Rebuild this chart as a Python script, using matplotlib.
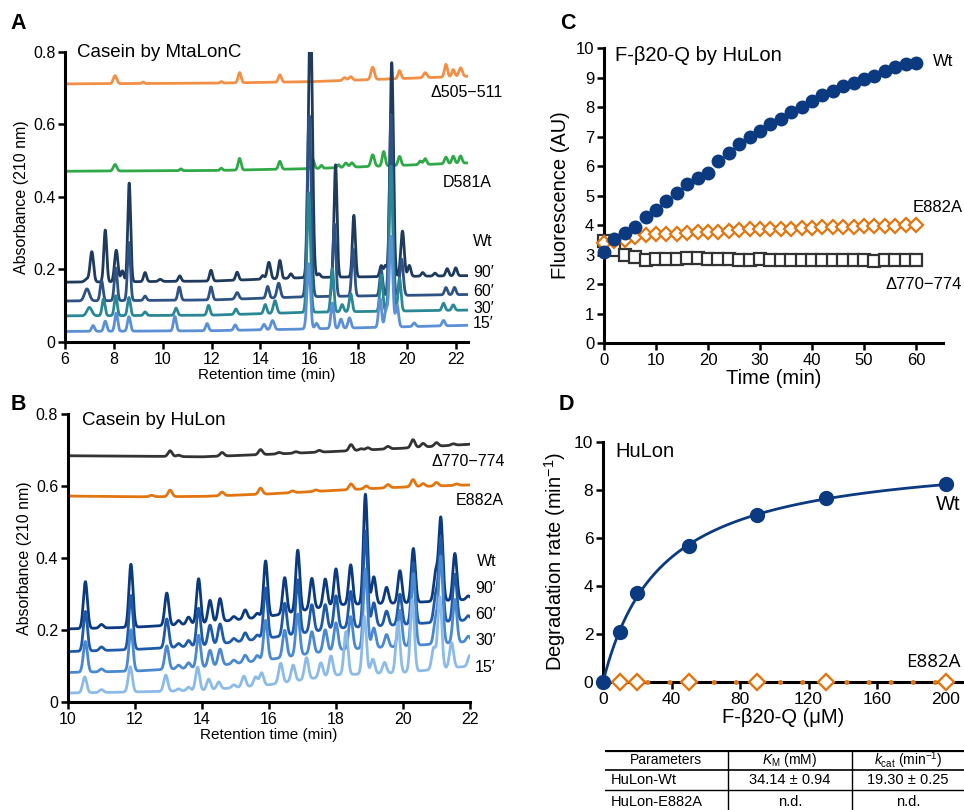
import numpy as np
import matplotlib
matplotlib.use('Agg')
from matplotlib import pyplot as plt
from matplotlib.lines import Line2D

plt.rcParams['font.family'] = ['Liberation Sans', 'DejaVu Sans']
plt.rcParams['mathtext.fontset'] = 'custom'
plt.rcParams['mathtext.rm'] = 'Liberation Sans'
plt.rcParams['mathtext.it'] = 'Liberation Sans:italic'

# ---- Panel A: casein digested by MtaLonC (peaks as (time, height, width)) ----
A_KNOTS_T = [6, 12, 16, 22.5]
A_D505_BASE = [0.712, 0.714, 0.718, 0.733]
A_D581A_BASE = [0.471, 0.473, 0.478, 0.494]
A_WT90_BASE = [0.165, 0.168, 0.178, 0.183]
A_WT60_BASE = [0.113, 0.116, 0.125, 0.131]
A_WT30_BASE = [0.072, 0.074, 0.082, 0.088]
A_WT15_BASE = [0.029, 0.031, 0.036, 0.046]

A_D505_PEAKS = [(8.05, 0.022, 0.07), (9.2, 0.004, 0.05), (12.4, 0.004, 0.05),
                (13.15, 0.028, 0.06), (14.8, 0.02, 0.06), (17.45, 0.008, 0.07),
                (17.7, 0.01, 0.07), (18.6, 0.034, 0.07), (19.7, 0.022, 0.06),
                (20.75, 0.014, 0.07), (21.6, 0.035, 0.06), (21.9, 0.02, 0.06),
                (22.2, 0.024, 0.07)]
A_D581A_PEAKS = [(8.05, 0.018, 0.07), (10.75, 0.005, 0.05), (12.4, 0.006, 0.05),
                 (13.15, 0.032, 0.06), (14.8, 0.022, 0.06), (16.15, 0.025, 0.06),
                 (16.5, 0.008, 0.05), (17.2, 0.008, 0.05), (17.5, 0.012, 0.07),
                 (17.75, 0.012, 0.07), (18.6, 0.032, 0.07), (19.05, 0.04, 0.06),
                 (19.7, 0.025, 0.06), (20.55, 0.01, 0.06), (20.75, 0.016, 0.06),
                 (21.6, 0.018, 0.06), (21.9, 0.02, 0.06), (22.2, 0.02, 0.06)]
A_WT90_PEAKS = [(6.9, 0.008, 0.09), (7.1, 0.083, 0.07), (7.65, 0.143, 0.06),
                (8.1, 0.087, 0.07), (8.35, 0.03, 0.06), (8.63, 0.272, 0.06),
                (9.28, 0.025, 0.06), (9.9, 0.006, 0.07), (10.7, 0.015, 0.06),
                (11.98, 0.03, 0.06), (13.05, 0.022, 0.06), (14.1, 0.01, 0.06),
                (14.35, 0.046, 0.07), (14.8, 0.05, 0.06), (15.25, 0.012, 0.06),
                (16.05, 0.75, 0.08), (16.4, 0.01, 0.06), (17.08, 0.31, 0.06),
                (17.83, 0.17, 0.06), (18.95, 0.03, 0.06), (19.12, 0.03, 0.06),
                (19.38, 0.59, 0.07), (19.82, 0.125, 0.07), (20.1, 0.03, 0.06),
                (20.65, 0.01, 0.06), (21.15, 0.008, 0.06), (21.65, 0.02, 0.06),
                (22.0, 0.022, 0.06)]
A_WT60_PEAKS = [(6.9, 0.033, 0.1), (7.5, 0.055, 0.06), (8.08, 0.09, 0.06),
                (8.62, 0.16, 0.06), (9.28, 0.012, 0.06), (10.68, 0.036, 0.06),
                (11.98, 0.036, 0.06), (13.05, 0.018, 0.07), (14.3, 0.032, 0.06),
                (14.75, 0.04, 0.07), (16.0, 0.5, 0.08), (17.03, 0.2, 0.06),
                (17.8, 0.13, 0.06), (18.95, 0.07, 0.06), (19.35, 0.5, 0.07),
                (19.78, 0.1, 0.07), (21.6, 0.02, 0.06), (21.95, 0.02, 0.06)]
A_WT30_PEAKS = [(7.0, 0.023, 0.1), (7.58, 0.046, 0.06), (8.08, 0.055, 0.06),
                (8.62, 0.05, 0.06), (9.28, 0.01, 0.06), (10.55, 0.02, 0.06),
                (11.88, 0.027, 0.06), (13.0, 0.015, 0.06), (14.2, 0.025, 0.06),
                (14.6, 0.035, 0.07), (15.98, 0.33, 0.07), (16.95, 0.12, 0.06),
                (17.35, 0.02, 0.06), (17.7, 0.05, 0.06), (18.95, 0.1, 0.06),
                (19.35, 0.4, 0.07), (19.7, 0.09, 0.06), (21.5, 0.02, 0.06),
                (21.9, 0.015, 0.06)]
A_WT15_PEAKS = [(7.15, 0.016, 0.06), (7.65, 0.028, 0.06), (8.1, 0.05, 0.06),
                (8.62, 0.04, 0.06), (10.5, 0.04, 0.06), (11.82, 0.02, 0.06),
                (12.97, 0.015, 0.06), (14.15, 0.015, 0.06), (14.5, 0.025, 0.07),
                (15.98, 0.18, 0.07), (16.3, 0.015, 0.06), (16.95, 0.07, 0.06),
                (17.3, 0.025, 0.06), (17.65, 0.028, 0.06), (18.9, 0.08, 0.06),
                (19.15, 0.05, 0.06), (19.35, 0.25, 0.07), (19.6, 0.06, 0.06),
                (20.3, 0.01, 0.06), (21.5, 0.015, 0.06)]

# ---- Panel B: casein digested by HuLon ----
B_KNOTS_T = [10, 12, 14, 16, 18, 20, 22]
B_D770_BASE = [0.684, 0.683, 0.681, 0.688, 0.696, 0.705, 0.716]
B_E882A_BASE = [0.572, 0.570, 0.571, 0.578, 0.588, 0.597, 0.603]
B_WT90_BASE = [0.203, 0.208, 0.218, 0.238, 0.270, 0.275, 0.285]
B_WT60_BASE = [0.140, 0.146, 0.156, 0.178, 0.205, 0.215, 0.228]
B_WT30_BASE = [0.082, 0.086, 0.096, 0.118, 0.145, 0.155, 0.168]
B_WT15_BASE = [0.025, 0.028, 0.032, 0.048, 0.075, 0.082, 0.100]

B_D770_PEAKS = [(13.05, 0.016), (13.3, 0.004), (14.6, 0.01), (15.75, 0.014),
                (16.3, 0.004), (16.8, 0.004), (17.5, 0.005), (18.45, 0.017),
                (18.75, 0.004), (18.95, 0.006), (19.55, 0.007), (20.3, 0.022),
                (20.6, 0.01), (21.0, 0.01), (21.5, 0.004)]
B_E882A_PEAKS = [(12.5, 0.004), (13.05, 0.018), (14.6, 0.01), (15.75, 0.017),
                 (16.7, 0.005), (17.4, 0.004), (18.45, 0.016), (18.9, 0.008),
                 (19.55, 0.009), (20.3, 0.02), (20.6, 0.008), (21.0, 0.01),
                 (21.6, 0.004)]

B_WT_T = [10.52, 11.0, 11.88, 12.95, 13.3, 13.6, 13.9, 14.24, 14.54, 14.95,
          15.29, 15.65, 15.9, 16.47, 16.86, 17.28, 17.68, 18.0, 18.44, 18.88,
          19.13, 19.51, 19.91, 20.31, 20.98, 21.13, 21.55, 21.95]
B_WT90_H = [0.13, 0.01, 0.175, 0.09, 0.012, 0.02, 0.125, 0.062, 0.064, 0.01,
            0.025, 0.012, 0.155, 0.1, 0.17, 0.085, 0.077, 0.1, 0.11, 0.305,
            0.075, 0.045, 0.09, 0.15, 0.08, 0.23, 0.13, 0.01]
B_WT60_H = [0.11, 0.01, 0.15, 0.08, 0.01, 0.017, 0.105, 0.055, 0.055, 0.01,
            0.022, 0.012, 0.14, 0.09, 0.15, 0.075, 0.07, 0.09, 0.1, 0.265,
            0.065, 0.04, 0.085, 0.17, 0.075, 0.23, 0.13, 0.012]
B_WT30_H = [0.085, 0.008, 0.115, 0.065, 0.01, 0.015, 0.09, 0.045, 0.045, 0.01,
            0.02, 0.015, 0.11, 0.075, 0.115, 0.06, 0.06, 0.075, 0.09, 0.22,
            0.055, 0.035, 0.1, 0.2, 0.07, 0.24, 0.12, 0.015]
B_WT15_T = [10.5, 11.0, 11.86, 12.92, 13.3, 13.6, 13.87, 14.2, 14.5, 14.95,
            15.25, 15.6, 15.78, 16.35, 16.72, 17.12, 17.55, 17.85, 18.3, 18.85,
            19.1, 19.45, 19.85, 20.28, 20.92, 21.1, 21.45, 22.0]
B_WT15_H = [0.044, 0.008, 0.07, 0.045, 0.006, 0.01, 0.065, 0.03, 0.02, 0.008,
            0.03, 0.025, 0.035, 0.055, 0.045, 0.06, 0.04, 0.055, 0.12, 0.16,
            0.04, 0.03, 0.14, 0.2, 0.06, 0.2, 0.07, 0.03]

# ---- Panel C: F-beta20-Q degradation time course ----
C_TIME = list(range(0, 62, 2))
C_WT = [3.1, 3.52, 3.72, 3.95, 4.26, 4.51, 4.8, 5.1, 5.38, 5.61, 5.77, 6.18,
        6.45, 6.74, 6.97, 7.18, 7.42, 7.61, 7.82, 8.0, 8.2, 8.41, 8.56, 8.7,
        8.8, 8.94, 9.04, 9.22, 9.35, 9.47, 9.49]
C_E882A = [3.4, 3.45, 3.48, 3.58, 3.66, 3.7, 3.7, 3.69, 3.73, 3.75, 3.75, 3.77,
           3.8, 3.82, 3.85, 3.85, 3.87, 3.87, 3.88, 3.9, 3.9, 3.92, 3.93, 3.95,
           3.95, 3.96, 3.96, 3.98, 3.98, 4.0, 4.0]
C_D770 = [3.45, 3.15, 2.98, 2.9, 2.82, 2.84, 2.84, 2.84, 2.88, 2.87, 2.86, 2.84,
          2.84, 2.83, 2.83, 2.84, 2.82, 2.82, 2.82, 2.83, 2.82, 2.81, 2.8, 2.81,
          2.81, 2.8, 2.79, 2.8, 2.8, 2.8, 2.8]

# ---- Panel D: Michaelis-Menten ----
D_SUBSTRATE = [0, 10, 20, 50, 90, 130, 200]
D_WT_RATE = [0, 2.1, 3.7, 5.65, 6.95, 7.65, 8.25]
D_E882A_SUBSTRATE = [10, 20, 50, 90, 130, 200]
D_E882A_RATE = [0, 0, 0, 0, 0, 0]
KM_WT = 34.14

TABLE_HEADER = ['Parameters', r'$K_{\mathrm{M}}$ (mM)', r'$k_{\mathrm{cat}}$ (min$^{-1}$)']
TABLE_ROWS = [['HuLon-Wt', '34.14 \u00b1 0.94', '19.30 \u00b1 0.25'],
              ['HuLon-E882A', 'n.d.', 'n.d.']]

NAVY = '#0b3a80'
ORANGE = '#e2750f'


def chromatogram(t, knots_t, knots_y, peaks, width=0.05):
    y = np.interp(t, knots_t, knots_y)
    for p in peaks:
        c, h = p[0], p[1]
        w = p[2] if len(p) > 2 else width
        y = y + h * np.exp(-0.5 * ((t - c) / w) ** 2)
    return y


def style_axes(ax, labelsize):
    for s in ['top', 'right']:
        ax.spines[s].set_visible(False)
    for s in ['left', 'bottom']:
        ax.spines[s].set_linewidth(2.2)
    ax.tick_params(direction='out', length=5, width=1.8, labelsize=labelsize, pad=2)


fig = plt.figure(figsize=(9.64, 8.10), dpi=100)

# ---------------- A ----------------
ax_a = fig.add_axes([0.0674, 0.5778, 0.418, 0.358])
ta = np.linspace(6, 22.5, 4000)
a_traces = [
    (A_D505_BASE, A_D505_PEAKS, '#f28f45'),
    (A_D581A_BASE, A_D581A_PEAKS, '#2fa847'),
    (A_WT90_BASE, A_WT90_PEAKS, '#1e3a5c'),
    (A_WT60_BASE, A_WT60_PEAKS, '#2d5283'),
    (A_WT30_BASE, A_WT30_PEAKS, '#2a8796'),
    (A_WT15_BASE, A_WT15_PEAKS, '#5b8fd6'),
]
for base, peaks, color in a_traces:
    ax_a.plot(ta, chromatogram(ta, A_KNOTS_T, base, peaks), color=color, lw=2.0,
              solid_joinstyle='round')
ax_a.set_xlim(6, 22.5)
ax_a.set_ylim(0, 0.8)
ax_a.set_xticks(range(6, 23, 2))
ax_a.set_yticks([0, 0.2, 0.4, 0.6, 0.8], ['0', '0.2', '0.4', '0.6', '0.8'])
style_axes(ax_a, 11.5)
ax_a.set_xlabel('Retention time (min)', fontsize=11, labelpad=1)
ax_a.set_ylabel('Absorbance (210 nm)', fontsize=11.5, labelpad=3)
ax_a.text(0.03, 1.0, 'Casein by MtaLonC', transform=ax_a.transAxes, fontsize=13.5,
          va='center', ha='left')
for x, y, s in [(20.95, 0.688, '\u0394505\u2212511'), (21.45, 0.441, 'D581A'),
                (22.71, 0.276, 'Wt'), (22.71, 0.193, '90\u2032'),
                (22.71, 0.138, '60\u2032'), (22.71, 0.091, '30\u2032'),
                (22.71, 0.05, '15\u2032')]:
    ax_a.text(x, y, s, fontsize=11.5, va='center', ha='left', clip_on=False)

# ---------------- B ----------------
ax_b = fig.add_axes([0.0705, 0.1333, 0.417, 0.3556])
tb = np.linspace(10, 22, 4000)
b_traces = [
    (B_D770_BASE, B_D770_PEAKS, '#333333'),
    (B_E882A_BASE, B_E882A_PEAKS, ORANGE),
    (B_WT90_BASE, list(zip(B_WT_T, B_WT90_H)), '#0c3a7e'),
    (B_WT60_BASE, list(zip(B_WT_T, B_WT60_H)), '#1f5aa8'),
    (B_WT30_BASE, list(zip(B_WT_T, B_WT30_H)), '#4a89cf'),
    (B_WT15_BASE, list(zip(B_WT15_T, B_WT15_H)), '#8dbbe8'),
]
for base, peaks, color in b_traces:
    ax_b.plot(tb, chromatogram(tb, B_KNOTS_T, base, peaks, 0.06), color=color,
              lw=2.0, solid_joinstyle='round')
ax_b.set_xlim(10, 22)
ax_b.set_ylim(0, 0.8)
ax_b.set_xticks(range(10, 23, 2))
ax_b.set_yticks([0, 0.2, 0.4, 0.6, 0.8], ['0', '0.2', '0.4', '0.6', '0.8'])
style_axes(ax_b, 11.5)
ax_b.set_xlabel('Retention time (min)', fontsize=11, labelpad=1)
ax_b.set_ylabel('Absorbance (210 nm)', fontsize=11.5, labelpad=3)
ax_b.text(0.035, 0.979, 'Casein by HuLon', transform=ax_b.transAxes, fontsize=13.5,
          va='center', ha='left')
for x, y, s in [(20.85, 0.669, '\u0394770\u2212774'), (21.58, 0.561, 'E882A'),
                (22.21, 0.389, 'Wt'), (22.15, 0.314, '90\u2032'),
                (22.15, 0.242, '60\u2032'), (22.15, 0.172, '30\u2032'),
                (22.15, 0.097, '15\u2032')]:
    ax_b.text(x, y, s, fontsize=11.5, va='center', ha='left', clip_on=False)

# ---------------- C ----------------
ax_c = fig.add_axes([0.6266, 0.5765, 0.3516, 0.3642])
ax_c.plot(C_TIME, C_D770, ls='none', marker='s', ms=8.5, mfc='white', mec='#333333',
          mew=1.6, clip_on=False, zorder=3)
ax_c.plot(C_TIME, C_E882A, ls='none', marker='D', ms=7.5, mfc='white', mec=ORANGE,
          mew=1.6, clip_on=False, zorder=3)
ax_c.plot(C_TIME, C_WT, ls='none', marker='o', ms=9, mfc=NAVY, mec=NAVY,
          clip_on=False, zorder=4)
ax_c.set_xlim(0, 65.2)
ax_c.set_ylim(0, 10)
ax_c.set_xticks(range(0, 61, 10))
ax_c.set_yticks(range(0, 11))
style_axes(ax_c, 12)
ax_c.set_xlabel('Time (min)', fontsize=14.5, labelpad=1)
ax_c.set_ylabel('Fluorescence (AU)', fontsize=14.5, labelpad=4)
ax_c.text(0.032, 0.976, 'F-\u03b220-Q by HuLon', transform=ax_c.transAxes,
          fontsize=14.5, va='center', ha='left')
ax_c.text(63.3, 9.53, 'Wt', fontsize=12, va='center', ha='left', clip_on=False)
ax_c.text(59.4, 4.61, 'E882A', fontsize=12, va='center', ha='left', clip_on=False)
ax_c.text(54.2, 2.0, '\u0394770\u2212774', fontsize=12, va='center', ha='left',
          clip_on=False)

# ---------------- D ----------------
ax_d = fig.add_axes([0.6255, 0.158, 0.3745, 0.2963])
s_arr = np.array(D_SUBSTRATE, dtype=float)
v_arr = np.array(D_WT_RATE, dtype=float)
f_arr = s_arr / (KM_WT + s_arr)
vmax = np.sum(v_arr * f_arr) / np.sum(f_arr ** 2)
s_fit = np.linspace(0, max(D_SUBSTRATE), 400)
ax_d.plot(s_fit, vmax * s_fit / (KM_WT + s_fit), color=NAVY, lw=2.0, zorder=3)
ax_d.plot([0, max(D_E882A_SUBSTRATE)], [0, 0], color=ORANGE, lw=3.5,
          ls=(0, (0.05, 4.5)), dash_capstyle='round', clip_on=False, zorder=3)
ax_d.plot(D_E882A_SUBSTRATE, D_E882A_RATE, ls='none', marker='D', ms=8.5,
          mfc='white', mec=ORANGE, mew=1.7, clip_on=False, zorder=4)
ax_d.plot(D_SUBSTRATE, D_WT_RATE, ls='none', marker='o', ms=10, mfc=NAVY,
          mec=NAVY, clip_on=False, zorder=5)
ax_d.set_xlim(0, 210.7)
ax_d.set_ylim(0, 10)
ax_d.set_xticks(range(0, 201, 40))
ax_d.set_yticks(range(0, 11, 2))
style_axes(ax_d, 12.5)
ax_d.set_xlabel('F-\u03b220-Q (\u03bcM)', fontsize=14.5, labelpad=1)
ax_d.set_ylabel('Degradation rate (min$^{-1}$)', fontsize=14.5, labelpad=4)
ax_d.text(0.033, 0.96, 'HuLon', transform=ax_d.transAxes, fontsize=14.5,
          va='center', ha='left')
ax_d.text(194.5, 7.38, 'Wt', fontsize=14.5, va='center', ha='left', clip_on=False)
ax_d.text(177.0, 0.83, 'E882A', fontsize=13.5, va='center', ha='left',
          family=['Open Sans', 'DejaVu Sans'], clip_on=False)

# ---------------- table ----------------
ax_t = fig.add_axes([605 / 964, 0, 359 / 964, 60 / 810])
ax_t.set_xlim(605, 964)
ax_t.set_ylim(810, 750)
ax_t.axis('off')
ax_t.add_line(Line2D([605, 964], [750.5, 750.5], color='black', lw=1.6))
ax_t.add_line(Line2D([605, 964], [770, 770], color='black', lw=1.2))
ax_t.add_line(Line2D([605, 964], [790, 790], color='black', lw=1.0))
for xv in [728, 852]:
    ax_t.add_line(Line2D([xv, xv], [750, 810], color='black', lw=1.0))
col_x = [666, 790, 908]
ax_t.text(col_x[0], 760, TABLE_HEADER[0], ha='center', va='center', fontsize=10)
ax_t.text(col_x[1], 760, TABLE_HEADER[1], ha='center', va='center', fontsize=10)
ax_t.text(col_x[2], 760, TABLE_HEADER[2], ha='center', va='center', fontsize=10)
for row, yv in zip(TABLE_ROWS, [780.5, 802]):
    ax_t.text(611, yv, row[0], ha='left', va='center', fontsize=10.5)
    ax_t.text(col_x[1], yv, row[1], ha='center', va='center', fontsize=10.5)
    ax_t.text(col_x[2], yv, row[2], ha='center', va='center', fontsize=10.5)

# ---------------- panel letters ----------------
for x, y, s in [(0.0187, 0.9716, 'A'), (0.0187, 0.5, 'B'), (0.589, 0.9716, 'C'),
                (0.588, 0.5, 'D')]:
    fig.text(x, y, s, fontsize=15.5, fontweight='bold', va='center', ha='center')

fig.savefig('out.png', dpi=100)
